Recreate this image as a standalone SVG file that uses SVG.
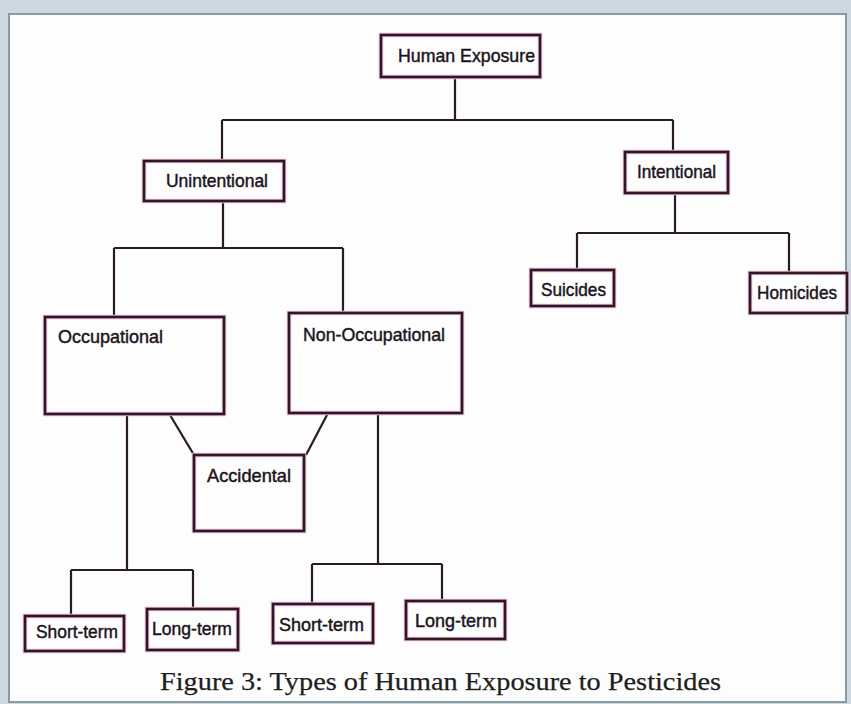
<svg xmlns="http://www.w3.org/2000/svg" width="851" height="704" viewBox="0 0 851 704">
<style>
.bx{fill:none;stroke:#2e1828;stroke-width:2.6}
.hl{fill:none;stroke:#e6b8d0;stroke-width:4.5}
.ln{fill:none;stroke:#2a1a24;stroke-width:2.2}
.t{font-family:"Liberation Sans",Arial,sans-serif;font-size:18.5px;fill:#1c1420;stroke:#1c1420;stroke-width:0.45}
.cap{font-family:"Liberation Serif","Times New Roman",serif;font-size:26px;fill:#1e1e1e;stroke:#1e1e1e;stroke-width:0.25}
</style>
<rect x="0" y="0" width="851" height="704" fill="#cbd8df"/>
<rect x="9" y="14" width="837" height="688" fill="#fdfdfd" stroke="#8c9aa2" stroke-width="2"/>
<g id="connectors">
<path class="ln" d="M455 77V120M222 120H673M222 120V161M673 120V152"/>
<path class="ln" d="M675 193V233M577 233H789M577 233V270M789 233V273"/>
<path class="ln" d="M223 201V248M114 248H343M114 248V317M343 248V313"/>
<path class="ln" d="M170 415L194 455M328 413L306 455"/>
<path class="ln" d="M127 414V570M71 570H193M71 570V616M193 570V609"/>
<path class="ln" d="M378 413V564M312 564H442M312 564V604M442 564V601"/>
</g>
<g id="human-exposure"><rect class="hl" x="381" y="35" width="159" height="42"/><rect class="bx" x="381" y="35" width="159" height="42"/><text class="t" x="398" y="62" textLength="137" lengthAdjust="spacingAndGlyphs">Human Exposure</text></g>
<g id="unintentional"><rect class="hl" x="144" y="161" width="140" height="40"/><rect class="bx" x="144" y="161" width="140" height="40"/><text class="t" x="166" y="187" textLength="102" lengthAdjust="spacingAndGlyphs">Unintentional</text></g>
<g id="intentional"><rect class="hl" x="625" y="152" width="103" height="41"/><rect class="bx" x="625" y="152" width="103" height="41"/><text class="t" x="637" y="178" textLength="79" lengthAdjust="spacingAndGlyphs">Intentional</text></g>
<g id="suicides"><rect class="hl" x="531" y="270" width="83" height="36"/><rect class="bx" x="531" y="270" width="83" height="36"/><text class="t" x="541" y="296" textLength="65" lengthAdjust="spacingAndGlyphs">Suicides</text></g>
<g id="homicides"><rect class="hl" x="750" y="273" width="97" height="40"/><rect class="bx" x="750" y="273" width="97" height="40"/><text class="t" x="757" y="299" textLength="80" lengthAdjust="spacingAndGlyphs">Homicides</text></g>
<g id="occupational"><rect class="hl" x="45" y="317" width="179" height="97"/><rect class="bx" x="45" y="317" width="179" height="97"/><text class="t" x="58" y="343" textLength="105" lengthAdjust="spacingAndGlyphs">Occupational</text></g>
<g id="non-occupational"><rect class="hl" x="289" y="313" width="173" height="100"/><rect class="bx" x="289" y="313" width="173" height="100"/><text class="t" x="303" y="341" textLength="142" lengthAdjust="spacingAndGlyphs">Non-Occupational</text></g>
<g id="accidental"><rect class="hl" x="194" y="455" width="110" height="76"/><rect class="bx" x="194" y="455" width="110" height="76"/><text class="t" x="207" y="482" textLength="84" lengthAdjust="spacingAndGlyphs">Accidental</text></g>
<g id="short-term-1"><rect class="hl" x="25" y="616" width="99" height="35"/><rect class="bx" x="25" y="616" width="99" height="35"/><text class="t" x="36" y="638" textLength="82" lengthAdjust="spacingAndGlyphs">Short-term</text></g>
<g id="long-term-1"><rect class="hl" x="147" y="609" width="91" height="41"/><rect class="bx" x="147" y="609" width="91" height="41"/><text class="t" x="152" y="635" textLength="80" lengthAdjust="spacingAndGlyphs">Long-term</text></g>
<g id="short-term-2"><rect class="hl" x="273" y="604" width="100" height="39"/><rect class="bx" x="273" y="604" width="100" height="39"/><text class="t" x="279" y="631" textLength="85" lengthAdjust="spacingAndGlyphs">Short-term</text></g>
<g id="long-term-2"><rect class="hl" x="406" y="601" width="99" height="38"/><rect class="bx" x="406" y="601" width="99" height="38"/><text class="t" x="415" y="627" textLength="82" lengthAdjust="spacingAndGlyphs">Long-term</text></g>
<text class="cap" x="160" y="690" textLength="561" lengthAdjust="spacingAndGlyphs">Figure 3: Types of Human Exposure to Pesticides</text>
</svg>
